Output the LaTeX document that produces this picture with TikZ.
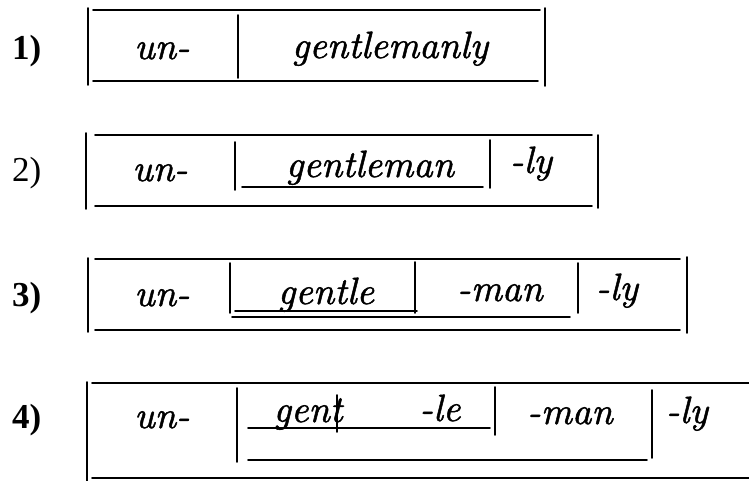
\documentclass[tikz,border=0pt]{standalone}
\usepackage{fontspec}
\usepackage{tikz}
\usetikzlibrary{positioning}
\newfontfamily\morphfont{lmroman10-italic.otf}[FakeBold=1.3]
\newfontfamily\numfont{Liberation Serif}

\begin{document}
\begin{tikzpicture}[x=1pt,y=-1pt,line cap=round,
      morph/.style={anchor=base,inner sep=0pt,font=\morphfont\fontsize{38}{40}\selectfont},
      num/.style={anchor=base west,inner sep=0pt,font=\numfont\fontsize{35}{37}\selectfont\bfseries},
      rule/.style={line width=1.6pt}]
    \useasboundingbox (0,0) rectangle (749,481);
    % Row 1: un- | gentlemanly
    \node[num] (n1) at (12,60) {1)};
    \node[morph] (un1) at (162,59) {un-};
    \node[morph] (gentlemanly) at (390,58) {gentlemanly};
    \foreach \xa/\ya/\xb/\yb in {88/8/88/85,545/8/545/86,93/10/540/10,93/81/538/81,238/15/238/78}
      {\draw[rule] (\xa,\ya)--(\xb,\yb);}
    % Row 2: un- | gentleman | -ly
    \node[num,font=\numfont\fontsize{35}{37}\selectfont] (n2) at (12,182) {2)};
    \node[morph] (un2) at (160,181) {un-};
    \node[morph] (gentleman) at (370,177) {gentleman};
    \node[morph] (ly2) at (531,173) {-ly};
    \foreach \xa/\ya/\xb/\yb in {86/133/86/209,598/135/598/208,95/135/592/135,95/206/592/206,
        235/142/235/190,242/187/483/187,490/140/490/188}
      {\draw[rule] (\xa,\ya)--(\xb,\yb);}
    % Row 3: un- | gentle | -man | -ly
    \node[num] (n3) at (12,306) {3)};
    \node[morph] (un3) at (162,306) {un-};
    \node[morph] (gentle) at (326,304) {gentle};
    \node[morph] (man3) at (500,301) {-man};
    \node[morph] (ly3) at (617,300) {-ly};
    \foreach \xa/\ya/\xb/\yb in {88/258/88/332,687/257/687/333,95/259/680/259,95/330/680/330,
        230/263/230/313,235/311/417/311,415/262/415/313,232/317/570/317,578/263/578/313}
      {\draw[rule] (\xa,\ya)--(\xb,\yb);}
    % Row 4: un- | gent | -le | -man | -ly
    \node[num] (n4) at (12,428) {4)};
    \node[morph] (un4) at (162,428) {un-};
    \node[morph] (gent) at (308,422) {gent};
    \node[morph] (le4) at (440,421) {-le};
    \node[morph] (man4) at (570,424) {-man};
    \node[morph] (ly4) at (687,423) {-ly};
    \foreach \xa/\ya/\xb/\yb in {87/382/87/481,92/383/749/383,92/478/749/478,
        237/388/237/462,248/428/490/428,337/395/337/432,495/387/495/435,
        248/460/647/460,652/390/652/458}
      {\draw[rule] (\xa,\ya)--(\xb,\yb);}
  \end{tikzpicture}
\end{document}
